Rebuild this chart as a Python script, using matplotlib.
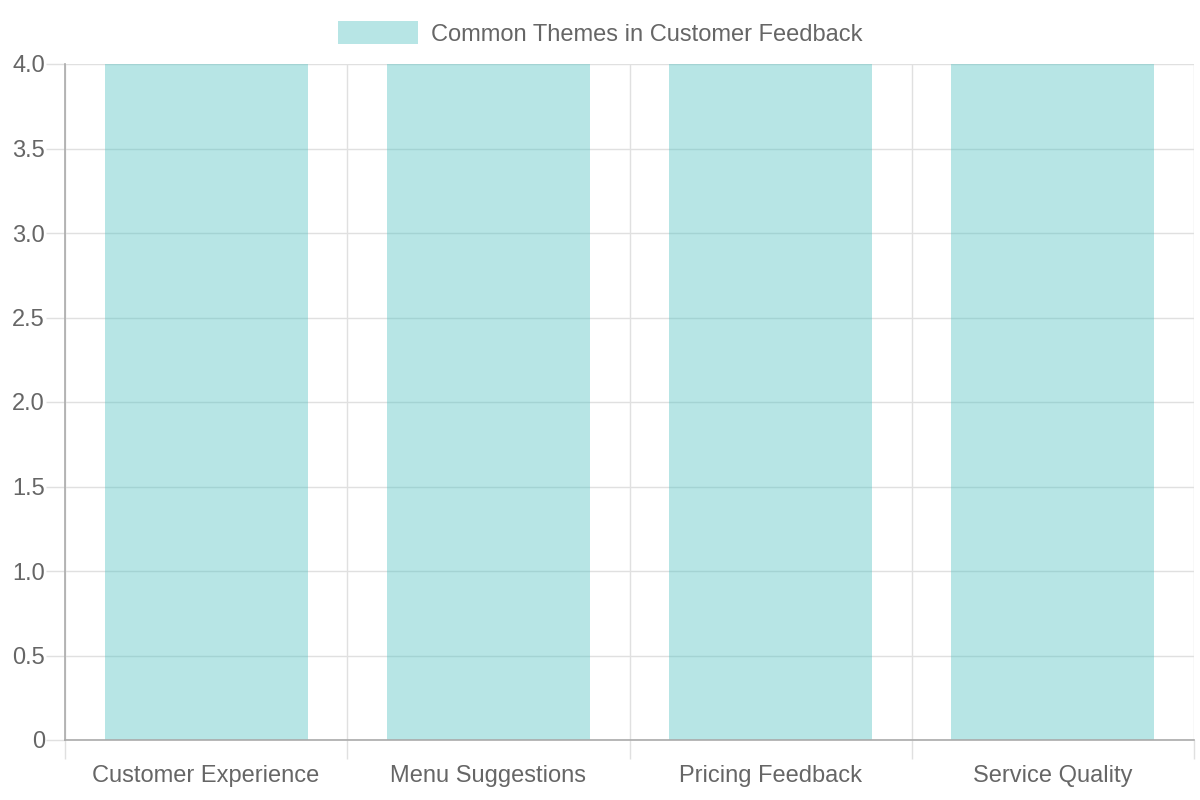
import matplotlib
matplotlib.use("Agg")
import matplotlib.pyplot as plt
from matplotlib.patches import Patch

categories = ["Customer Experience", "Menu Suggestions", "Pricing Feedback", "Service Quality"]
values = [4, 4, 4, 4]
series_label = "Common Themes in Customer Feedback"
yticks = [0, 0.5, 1.0, 1.5, 2.0, 2.5, 3.0, 3.5, 4.0]
ytick_labels = ["0", "0.5", "1.0", "1.5", "2.0", "2.5", "3.0", "3.5", "4.0"]

plt.rcParams['font.family'] = ['Liberation Sans', 'DejaVu Sans']
fig = plt.figure(figsize=(12, 8), dpi=100)
ax = fig.add_axes([65/1200, 60/800, 1129/1200, 676/800])

fill = (75/255, 192/255, 192/255, 0.4)
x = list(range(len(categories)))
ax.bar(x, values, width=0.72, color=fill, zorder=2)
ax.set_xlim(-0.5, len(categories) - 0.5)
ax.set_ylim(0, 4.0)

ax.set_yticks(yticks)
ax.set_yticklabels(ytick_labels)
ax.set_xticks(x)
ax.set_xticklabels(categories)
ax.tick_params(axis='x', which='major', length=0, labelsize=17, labelcolor='#666666', pad=18)
ax.tick_params(axis='y', which='major', length=14, color='#e0e0e0', width=1, pad=0.5,
               labelsize=17, labelcolor='#666666')
# category boundary gridlines
ax.set_xticks([i - 0.5 for i in range(len(categories) + 1)], minor=True)
ax.tick_params(axis='x', which='minor', length=14, color='#e0e0e0', width=1)
ax.grid(True, axis='y', which='major', color='#e0e0e0', linewidth=1, zorder=0)
ax.grid(True, axis='x', which='minor', color='#e0e0e0', linewidth=1, zorder=0)
ax.set_axisbelow(True)

for s in ['top', 'right']:
    ax.spines[s].set_visible(False)
for s in ['left', 'bottom']:
    ax.spines[s].set_color('#aaaaaa')
    ax.spines[s].set_linewidth(1.2)

handle = Patch(facecolor=fill, edgecolor='none')
fig.legend([handle], [series_label], loc='upper center', bbox_to_anchor=(0.5, 1.0),
           frameon=False, fontsize=17, labelcolor='#666666', handlelength=3.4, handleheight=1.1,
           handletextpad=0.55)

fig.savefig("out.png", dpi=100)
